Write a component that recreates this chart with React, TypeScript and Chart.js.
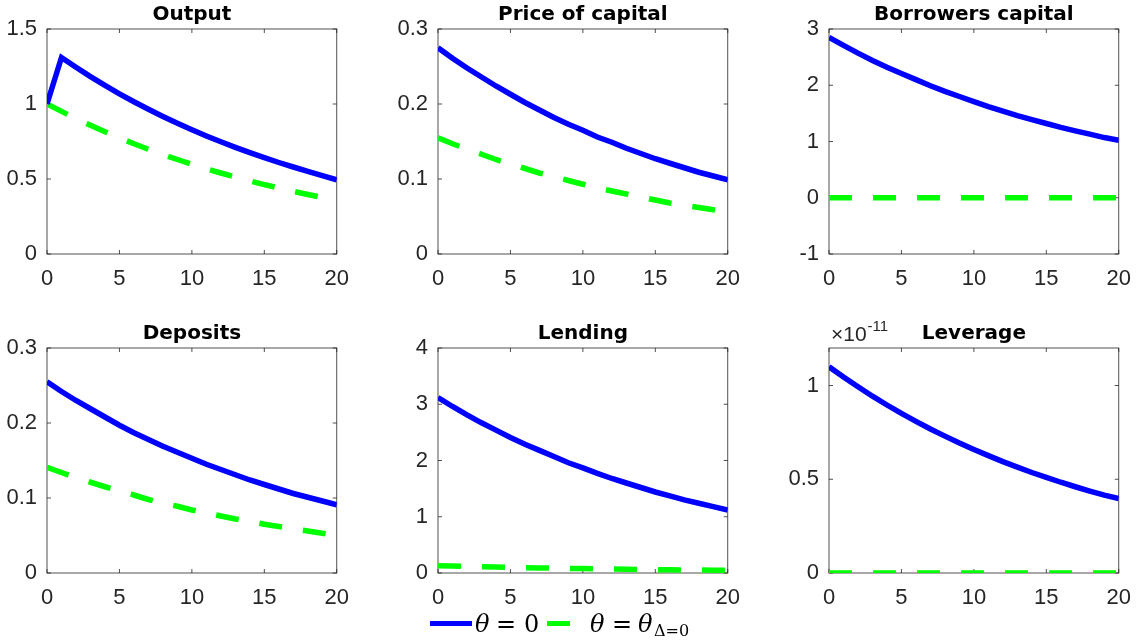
import React, { useEffect, useRef } from 'react';
import { Chart, registerables } from 'chart.js';

Chart.register(...registerables);

// horizon (quarters) and x ticks shared by every panel
const periods = [0, 1, 2, 3, 4, 5, 6, 7, 8, 9, 10, 11, 12, 13, 14, 15, 16, 17, 18, 19, 20];
const xTicks = [0, 5, 10, 15, 20];

// theta = 0 (blue) and theta = theta_{Delta=0} (green) responses
const outputTheta0 = [1.0, 1.31, 1.245, 1.183, 1.124, 1.068, 1.015, 0.965, 0.917, 0.871, 0.828, 0.787, 0.748, 0.711, 0.676, 0.642, 0.61, 0.58, 0.551, 0.522, 0.495];
const outputThetaD = [1.0, 0.951, 0.903, 0.858, 0.815, 0.774, 0.735, 0.698, 0.663, 0.63, 0.598, 0.568, 0.54, 0.513, 0.487, 0.463, 0.44, 0.418, 0.397, 0.377, 0.358];

const priceTheta0 = [0.275, 0.261, 0.248, 0.236, 0.224, 0.213, 0.202, 0.192, 0.182, 0.173, 0.165, 0.156, 0.149, 0.141, 0.134, 0.127, 0.121, 0.115, 0.109, 0.104, 0.099];
const priceThetaD = [0.155, 0.147, 0.14, 0.133, 0.126, 0.12, 0.114, 0.108, 0.103, 0.098, 0.093, 0.088, 0.084, 0.08, 0.076, 0.072, 0.068, 0.065, 0.062, 0.059, 0.056];

const borrowTheta0 = [2.85, 2.71, 2.57, 2.44, 2.32, 2.21, 2.1, 1.99, 1.89, 1.8, 1.71, 1.62, 1.54, 1.46, 1.39, 1.32, 1.25, 1.19, 1.13, 1.07, 1.02];
const borrowThetaD = [0, 0, 0, 0, 0, 0, 0, 0, 0, 0, 0, 0, 0, 0, 0, 0, 0, 0, 0, 0, 0];

const depositTheta0 = [0.255, 0.242, 0.23, 0.219, 0.208, 0.197, 0.187, 0.178, 0.169, 0.161, 0.153, 0.145, 0.138, 0.131, 0.124, 0.118, 0.112, 0.106, 0.101, 0.096, 0.091];
const depositThetaD = [0.141, 0.134, 0.127, 0.121, 0.115, 0.109, 0.104, 0.098, 0.093, 0.089, 0.084, 0.08, 0.076, 0.072, 0.069, 0.065, 0.062, 0.059, 0.056, 0.053, 0.05];

const lendingTheta0 = [3.12, 2.96, 2.81, 2.67, 2.54, 2.41, 2.29, 2.18, 2.07, 1.96, 1.87, 1.77, 1.68, 1.6, 1.52, 1.44, 1.37, 1.3, 1.24, 1.18, 1.12];
const lendingThetaD = [0.13, 0.124, 0.117, 0.111, 0.106, 0.1, 0.095, 0.09, 0.086, 0.082, 0.078, 0.074, 0.07, 0.067, 0.063, 0.06, 0.057, 0.054, 0.052, 0.049, 0.047];

// leverage is in units of 1e-11
const leverageTheta0 = [1.1, 1.045, 0.993, 0.943, 0.896, 0.851, 0.809, 0.768, 0.73, 0.693, 0.659, 0.626, 0.594, 0.565, 0.536, 0.51, 0.484, 0.46, 0.437, 0.415, 0.397];
const leverageThetaD = [0, 0, 0, 0, 0, 0, 0, 0, 0, 0, 0, 0, 0, 0, 0, 0, 0, 0, 0, 0, 0];
const leverageExponent = '-11';

// y tick labels
const outputTicks = [0, 0.5, 1, 1.5];
const priceTicks = [0, 0.1, 0.2, 0.3];
const borrowTicks = [-1, 0, 1, 2, 3];
const depositTicks = [0, 0.1, 0.2, 0.3];
const lendingTicks = [0, 1, 2, 3, 4];
const leverageTicks = [0, 0.5, 1];

// layout of the 2x3 grid (plot-area corners in page pixels)
const COL_LEFT = [47, 438, 829];
const ROW_TOP = [29, 348];
const PLOT_W = 297;
const PLOT_H = 225;
const PAD_L = 47;
const PAD_T = 30;
const PAD_R = 17;
const PAD_B = 40;
const TICK_LEN = 4;

const BLUE = '#0000ff';
const GREEN = '#00ff00';
const AXIS = '#262626';
const SANS = '"Liberation Sans", Arial, sans-serif';
const TITLE_FONT = '"DejaVu Sans", "Liberation Sans", sans-serif';
const SERIF = '"DejaVu Serif", "Liberation Serif", serif';

type PanelProps = {
  title: string;
  blue: number[];
  green: number[];
  yMin: number;
  yMax: number;
  yTicks: number[];
  col: number;
  row: number;
  exponent?: string;
};

const panels: PanelProps[] = [
  { title: 'Output', blue: outputTheta0, green: outputThetaD, yMin: 0, yMax: 1.5, yTicks: outputTicks, col: 0, row: 0 },
  { title: 'Price of capital', blue: priceTheta0, green: priceThetaD, yMin: 0, yMax: 0.3, yTicks: priceTicks, col: 1, row: 0 },
  { title: 'Borrowers capital', blue: borrowTheta0, green: borrowThetaD, yMin: -1, yMax: 3, yTicks: borrowTicks, col: 2, row: 0 },
  { title: 'Deposits', blue: depositTheta0, green: depositThetaD, yMin: 0, yMax: 0.3, yTicks: depositTicks, col: 0, row: 1 },
  { title: 'Lending', blue: lendingTheta0, green: lendingThetaD, yMin: 0, yMax: 4, yTicks: lendingTicks, col: 1, row: 1 },
  { title: 'Leverage', blue: leverageTheta0, green: leverageThetaD, yMin: 0, yMax: 1.2, yTicks: leverageTicks, col: 2, row: 1, exponent: leverageExponent },
];

const Panel = ({ title, blue, green, yMin, yMax, yTicks, col, row, exponent }: PanelProps) => {
  const canvasRef = useRef<HTMLCanvasElement | null>(null);
  const chartRef = useRef<Chart | null>(null);

  useEffect(() => {
    if (chartRef.current) chartRef.current.destroy();
    const ctx = canvasRef.current?.getContext('2d');
    if (!ctx) return;

    // MATLAB-style box with inward ticks, title and axis exponent
    const boxPlugin = {
      id: 'matlabBox',
      beforeDatasetsDraw(chart: any) {
        const { ctx: c, chartArea: a, scales } = chart;
        c.save();
        c.strokeStyle = AXIS;
        c.lineWidth = 0.8;
        c.strokeRect(a.left, a.top, a.right - a.left, a.bottom - a.top);
        c.beginPath();
        scales.x.ticks.forEach((t: any) => {
          const px = scales.x.getPixelForValue(t.value);
          c.moveTo(px, a.bottom);
          c.lineTo(px, a.bottom - TICK_LEN);
          c.moveTo(px, a.top);
          c.lineTo(px, a.top + TICK_LEN);
        });
        scales.y.ticks.forEach((t: any) => {
          const py = scales.y.getPixelForValue(t.value);
          c.moveTo(a.left, py);
          c.lineTo(a.left + TICK_LEN, py);
          c.moveTo(a.right, py);
          c.lineTo(a.right - TICK_LEN, py);
        });
        c.stroke();
        c.restore();
      },
      afterDraw(chart: any) {
        const { ctx: c, chartArea: a } = chart;
        c.save();
        c.fillStyle = '#000';
        c.font = `bold 20px ${TITLE_FONT}`;
        c.textAlign = 'center';
        c.textBaseline = 'alphabetic';
        c.fillText(title, (a.left + a.right) / 2, a.top - 9);
        if (exponent) {
          c.fillStyle = AXIS;
          c.textAlign = 'left';
          c.font = `21px ${SANS}`;
          const base = '\u00d710';
          c.fillText(base, a.left + 2, a.top - 7);
          const w = c.measureText(base).width;
          c.font = `15px ${SANS}`;
          c.fillText(exponent, a.left + 3 + w, a.top - 17);
        }
        c.restore();
      },
    };

    const tickFont = { family: SANS, size: 22 };

    chartRef.current = new Chart(ctx, {
      type: 'line',
      data: {
        datasets: [
          {
            data: periods.map((t, i) => ({ x: t, y: blue[i] })),
            borderColor: BLUE,
            borderWidth: 5.5,
            pointRadius: 0,
            tension: 0,
          },
          {
            data: periods.map((t, i) => ({ x: t, y: green[i] })),
            borderColor: GREEN,
            borderWidth: 5.5,
            borderDash: [23, 21],
            borderCapStyle: 'butt',
            pointRadius: 0,
            tension: 0,
          },
        ],
      },
      options: {
        animation: false,
        responsive: true,
        maintainAspectRatio: false,
        layout: { padding: { top: PAD_T, right: PAD_R, left: 0, bottom: 0 } },
        plugins: {
          legend: { display: false },
          tooltip: { enabled: false },
          title: { display: false },
        },
        scales: {
          x: {
            type: 'linear',
            min: 0,
            max: 20,
            grid: { display: false, drawTicks: false },
            border: { display: false },
            ticks: { font: tickFont, color: AXIS, padding: 12, maxRotation: 0, autoSkip: false, callback: (v: any) => String(v) },
            afterBuildTicks: (axis: any) => {
              axis.ticks = xTicks.map((v) => ({ value: v }));
            },
            afterFit: (axis: any) => {
              axis.height = PAD_B;
            },
          },
          y: {
            type: 'linear',
            min: yMin,
            max: yMax,
            grid: { display: false, drawTicks: false },
            border: { display: false },
            ticks: { font: tickFont, color: AXIS, padding: 10, autoSkip: false, callback: (v: any) => String(v) },
            afterBuildTicks: (axis: any) => {
              axis.ticks = yTicks.map((v) => ({ value: v }));
            },
            afterFit: (axis: any) => {
              axis.width = PAD_L;
            },
          },
        },
      },
      plugins: [boxPlugin],
    });

    return () => {
      if (chartRef.current) {
        chartRef.current.destroy();
        chartRef.current = null;
      }
    };
  }, [title, blue, green, yMin, yMax, yTicks, exponent]);

  return (
    <div
      style={{
        position: 'absolute',
        left: COL_LEFT[col] - PAD_L,
        top: ROW_TOP[row] - PAD_T,
        width: PLOT_W + PAD_L + PAD_R,
        height: PLOT_H + PAD_T + PAD_B,
      }}
    >
      <canvas ref={canvasRef}></canvas>
    </div>
  );
};

const glyph = (left: number, top: number, size: number, italic = false): React.CSSProperties => ({
  position: 'absolute',
  left,
  top,
  fontFamily: SERIF,
  fontSize: size,
  fontStyle: italic ? 'italic' : 'normal',
  lineHeight: 1,
  color: '#000',
  whiteSpace: 'nowrap',
});

const Legend = () => (
  <div>
    <div style={{ position: 'absolute', left: 430, top: 621, width: 42, height: 5, background: BLUE }} />
    <span style={glyph(475, 612, 24, true)}>θ</span>
    <span style={glyph(496, 612, 24)}>=</span>
    <span style={glyph(524, 612, 24)}>0</span>
    <div style={{ position: 'absolute', left: 547, top: 621, width: 23, height: 5, background: GREEN }} />
    <span style={glyph(590, 612, 24, true)}>θ</span>
    <span style={glyph(612, 612, 24)}>=</span>
    <span style={glyph(638, 612, 24, true)}>θ</span>
    <span style={glyph(654, 623, 16)}>Δ=0</span>
  </div>
);

const App = () => {
  return (
    <div
      style={{
        position: 'fixed',
        left: 0,
        top: 0,
        width: 1144,
        height: 644,
        background: '#fff',
        overflow: 'hidden',
      }}
    >
      {panels.map((p) => (
        <Panel key={p.title} {...p} />
      ))}
      <Legend />
    </div>
  );
};

export default App;
